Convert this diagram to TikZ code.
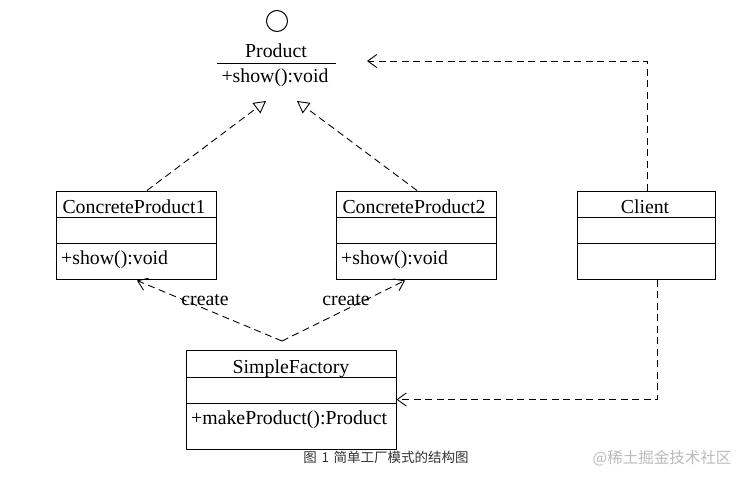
\documentclass[tikz,border=0pt]{standalone}
\usepackage{fontspec}
\setmainfont{Liberation Serif}
\newfontfamily\cjk{Noto Sans CJK SC}
\usetikzlibrary{arrows.meta}
\definecolor{capgray}{HTML}{333333}
\definecolor{wmgray}{HTML}{BBBBBB}
\begin{document}
\begin{tikzpicture}[x=1pt,y=-1pt,
  box/.style={draw,line width=1pt,inner sep=0pt},
  sep/.style={line width=1pt},
  lbl/.style={font=\fontsize{19.8}{22}\selectfont,inner sep=0pt,anchor=base},
  lbll/.style={lbl,anchor=base west},
  dep/.style={line width=0.9pt,dash pattern=on 7pt off 4.5pt},
  real/.style={dep,-{Triangle[open,length=12pt,width=13pt]}},
  use/.style={dep,-{Straight Barb[length=9pt,width=13pt]}},
]
\useasboundingbox (0,0) rectangle (748,485);
% Product interface
\node[draw,circle,minimum size=21pt,inner sep=0pt,line width=1pt] (ifc) at (277,21) {};
\node[lbl] (prodt) at (276,57) {Product};
\draw[sep] (217,63) -- (336,63);
\node[lbl] (prodm) at (275,82) {+show():void};
\coordinate (pin1) at (266,101);
\coordinate (pin2) at (297,101);
% ConcreteProduct1
\node[box,minimum width=160pt,minimum height=88pt] (cp1) at (136,235) {};
\draw[sep] ([yshift=-27pt]cp1.north west) -- ([yshift=-27pt]cp1.north east);
\draw[sep] ([yshift=-53pt]cp1.north west) -- ([yshift=-53pt]cp1.north east);
\node[lbl] (cp1t) at (134,213) {ConcreteProduct1};
\node[lbll] (cp1m) at (61,264) {+show():void};
% ConcreteProduct2
\node[box,minimum width=160pt,minimum height=88pt] (cp2) at (416,235) {};
\draw[sep] ([yshift=-27pt]cp2.north west) -- ([yshift=-27pt]cp2.north east);
\draw[sep] ([yshift=-53pt]cp2.north west) -- ([yshift=-53pt]cp2.north east);
\node[lbl] (cp2t) at (414,213) {ConcreteProduct2};
\node[lbll] (cp2m) at (341,264) {+show():void};
% Client
\node[box,minimum width=138pt,minimum height=88pt] (client) at (646,235) {};
\draw[sep] ([yshift=-27pt]client.north west) -- ([yshift=-27pt]client.north east);
\draw[sep] ([yshift=-53pt]client.north west) -- ([yshift=-53pt]client.north east);
\node[lbl] (clientt) at (645,213) {Client};
% SimpleFactory
\node[box,minimum width=210pt,minimum height=99pt] (sf) at (291,399.5) {};
\draw[sep] ([yshift=-28pt]sf.north west) -- ([yshift=-28pt]sf.north east);
\draw[sep] ([yshift=-54pt]sf.north west) -- ([yshift=-54pt]sf.north east);
\node[lbl] (sft) at (291,373) {SimpleFactory};
\node[lbll] (sfm) at (191,424) {+makeProduct():Product};
% realizations
\draw[real] ([xshift=11pt]cp1.north) -- (pin1);
\draw[real] ([xshift=1pt]cp2.north) -- (pin2);
% client dependencies
\coordinate (cl2p) at (367,61);
\draw[use] ([xshift=1pt]client.north) |- (cl2p);
\draw[use] ([xshift=11pt]client.south) |- (sf.east);
% create
\coordinate (fork) at (282,341);
\draw[use] (fork) -- ([xshift=1pt,yshift=-1pt]cp1.south);
\draw[use] (fork) -- ([xshift=-11pt,yshift=-1pt]cp2.south);
\node[lbl] (c1) at (205,305) {create};
\node[lbl] (c2) at (346,305) {create};
% caption
\node[font=\cjk\fontsize{13.5}{16}\selectfont,text=capgray,inner sep=0pt] (cap) at (386,457) {图\hspace{0.35em}1\hspace{0.35em}简单工厂模式的结构图};
\node[font=\cjk\fontsize{15.5}{18}\selectfont,text=wmgray,inner sep=0pt] (wm) at (662,458) {@稀土掘金技术社区};
\end{tikzpicture}
\end{document}
